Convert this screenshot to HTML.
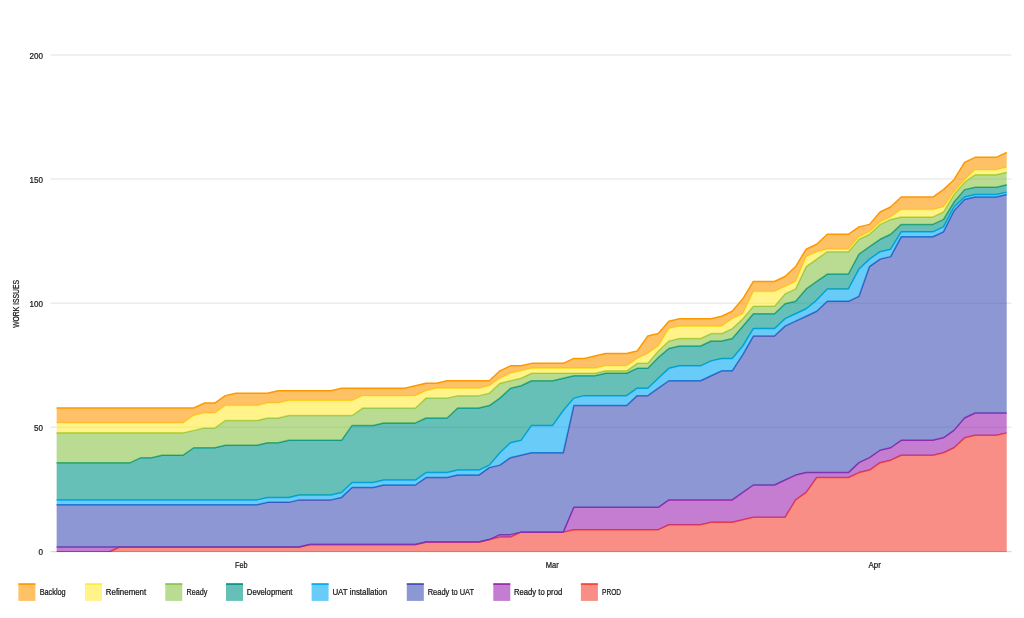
<!DOCTYPE html>
<html lang="en"><head><meta charset="utf-8"><title>Cumulative flow diagram</title>
<style>html,body{margin:0;padding:0;background:#fff}body{width:1024px;height:618px;overflow:hidden}svg{display:block;filter:blur(0.35px)}</style></head>
<body>
<svg width="1024" height="618" viewBox="0 0 1024 618">
<rect width="1024" height="618" fill="#fff"/>
<g stroke="#ebebeb" stroke-width="1.5">
<line x1="50.5" y1="55.0" x2="1011.5" y2="55.0"/>
<line x1="50.5" y1="179.1" x2="1011.5" y2="179.1"/>
<line x1="50.5" y1="303.2" x2="1011.5" y2="303.2"/>
<line x1="50.5" y1="427.3" x2="1011.5" y2="427.3"/>
</g>
<defs><clipPath id="plot"><rect x="56.4" y="40" width="950.5" height="512"/></clipPath></defs>
<g clip-path="url(#plot)">
<polygon points="56.40,552.00 66.96,552.00 77.52,552.00 88.08,552.00 98.64,552.00 109.20,552.00 119.76,547.04 130.32,547.04 140.88,547.04 151.44,547.04 162.00,547.04 172.56,547.04 183.12,547.04 193.68,547.04 204.24,547.04 214.80,547.04 225.36,547.04 235.92,547.04 246.48,547.04 257.04,547.04 267.60,547.04 278.16,547.04 288.72,547.04 299.28,547.04 309.84,544.55 320.40,544.55 330.96,544.55 341.52,544.55 352.08,544.55 362.64,544.55 373.20,544.55 383.76,544.55 394.32,544.55 404.88,544.55 415.44,544.55 426.00,542.07 436.56,542.07 447.12,542.07 457.68,542.07 468.24,542.07 478.80,542.07 489.36,539.59 499.92,537.11 510.48,537.11 521.04,532.14 531.60,532.14 542.16,532.14 552.72,532.14 563.28,532.14 573.84,529.66 584.40,529.66 594.96,529.66 605.52,529.66 616.08,529.66 626.64,529.66 637.20,529.66 647.76,529.66 658.32,529.66 668.88,524.70 679.44,524.70 690.00,524.70 700.56,524.70 711.12,522.22 721.68,522.22 732.24,522.22 742.80,519.73 753.36,517.25 763.92,517.25 774.48,517.25 785.04,517.25 795.60,499.88 806.16,492.43 816.72,477.54 827.28,477.54 837.84,477.54 848.40,477.54 858.96,472.58 869.52,470.09 880.08,462.65 890.64,460.17 901.20,455.20 911.76,455.20 922.32,455.20 932.88,455.20 943.44,452.72 954.00,447.76 964.56,437.83 975.12,435.35 985.68,435.35 996.24,435.35 1006.80,432.86 1006.80,552.00 996.24,552.00 985.68,552.00 975.12,552.00 964.56,552.00 954.00,552.00 943.44,552.00 932.88,552.00 922.32,552.00 911.76,552.00 901.20,552.00 890.64,552.00 880.08,552.00 869.52,552.00 858.96,552.00 848.40,552.00 837.84,552.00 827.28,552.00 816.72,552.00 806.16,552.00 795.60,552.00 785.04,552.00 774.48,552.00 763.92,552.00 753.36,552.00 742.80,552.00 732.24,552.00 721.68,552.00 711.12,552.00 700.56,552.00 690.00,552.00 679.44,552.00 668.88,552.00 658.32,552.00 647.76,552.00 637.20,552.00 626.64,552.00 616.08,552.00 605.52,552.00 594.96,552.00 584.40,552.00 573.84,552.00 563.28,552.00 552.72,552.00 542.16,552.00 531.60,552.00 521.04,552.00 510.48,552.00 499.92,552.00 489.36,552.00 478.80,552.00 468.24,552.00 457.68,552.00 447.12,552.00 436.56,552.00 426.00,552.00 415.44,552.00 404.88,552.00 394.32,552.00 383.76,552.00 373.20,552.00 362.64,552.00 352.08,552.00 341.52,552.00 330.96,552.00 320.40,552.00 309.84,552.00 299.28,552.00 288.72,552.00 278.16,552.00 267.60,552.00 257.04,552.00 246.48,552.00 235.92,552.00 225.36,552.00 214.80,552.00 204.24,552.00 193.68,552.00 183.12,552.00 172.56,552.00 162.00,552.00 151.44,552.00 140.88,552.00 130.32,552.00 119.76,552.00 109.20,552.00 98.64,552.00 88.08,552.00 77.52,552.00 66.96,552.00 56.40,552.00" fill="#F44336" fill-opacity="0.6"/>
<polyline points="56.40,552.00 66.96,552.00 77.52,552.00 88.08,552.00 98.64,552.00 109.20,552.00 119.76,547.04 130.32,547.04 140.88,547.04 151.44,547.04 162.00,547.04 172.56,547.04 183.12,547.04 193.68,547.04 204.24,547.04 214.80,547.04 225.36,547.04 235.92,547.04 246.48,547.04 257.04,547.04 267.60,547.04 278.16,547.04 288.72,547.04 299.28,547.04 309.84,544.55 320.40,544.55 330.96,544.55 341.52,544.55 352.08,544.55 362.64,544.55 373.20,544.55 383.76,544.55 394.32,544.55 404.88,544.55 415.44,544.55 426.00,542.07 436.56,542.07 447.12,542.07 457.68,542.07 468.24,542.07 478.80,542.07 489.36,539.59 499.92,537.11 510.48,537.11 521.04,532.14 531.60,532.14 542.16,532.14 552.72,532.14 563.28,532.14 573.84,529.66 584.40,529.66 594.96,529.66 605.52,529.66 616.08,529.66 626.64,529.66 637.20,529.66 647.76,529.66 658.32,529.66 668.88,524.70 679.44,524.70 690.00,524.70 700.56,524.70 711.12,522.22 721.68,522.22 732.24,522.22 742.80,519.73 753.36,517.25 763.92,517.25 774.48,517.25 785.04,517.25 795.60,499.88 806.16,492.43 816.72,477.54 827.28,477.54 837.84,477.54 848.40,477.54 858.96,472.58 869.52,470.09 880.08,462.65 890.64,460.17 901.20,455.20 911.76,455.20 922.32,455.20 932.88,455.20 943.44,452.72 954.00,447.76 964.56,437.83 975.12,435.35 985.68,435.35 996.24,435.35 1006.80,432.86" fill="none" stroke="#F44336" stroke-width="1.5" stroke-linejoin="round"/>
<polygon points="56.40,547.04 66.96,547.04 77.52,547.04 88.08,547.04 98.64,547.04 109.20,547.04 119.76,547.04 130.32,547.04 140.88,547.04 151.44,547.04 162.00,547.04 172.56,547.04 183.12,547.04 193.68,547.04 204.24,547.04 214.80,547.04 225.36,547.04 235.92,547.04 246.48,547.04 257.04,547.04 267.60,547.04 278.16,547.04 288.72,547.04 299.28,547.04 309.84,544.55 320.40,544.55 330.96,544.55 341.52,544.55 352.08,544.55 362.64,544.55 373.20,544.55 383.76,544.55 394.32,544.55 404.88,544.55 415.44,544.55 426.00,542.07 436.56,542.07 447.12,542.07 457.68,542.07 468.24,542.07 478.80,542.07 489.36,539.59 499.92,534.63 510.48,534.63 521.04,532.14 531.60,532.14 542.16,532.14 552.72,532.14 563.28,532.14 573.84,507.32 584.40,507.32 594.96,507.32 605.52,507.32 616.08,507.32 626.64,507.32 637.20,507.32 647.76,507.32 658.32,507.32 668.88,499.88 679.44,499.88 690.00,499.88 700.56,499.88 711.12,499.88 721.68,499.88 732.24,499.88 742.80,492.43 753.36,484.99 763.92,484.99 774.48,484.99 785.04,480.02 795.60,475.06 806.16,472.58 816.72,472.58 827.28,472.58 837.84,472.58 848.40,472.58 858.96,462.65 869.52,457.68 880.08,450.24 890.64,447.76 901.20,440.31 911.76,440.31 922.32,440.31 932.88,440.31 943.44,437.83 954.00,430.38 964.56,417.97 975.12,413.01 985.68,413.01 996.24,413.01 1006.80,413.01 1006.80,432.86 996.24,435.35 985.68,435.35 975.12,435.35 964.56,437.83 954.00,447.76 943.44,452.72 932.88,455.20 922.32,455.20 911.76,455.20 901.20,455.20 890.64,460.17 880.08,462.65 869.52,470.09 858.96,472.58 848.40,477.54 837.84,477.54 827.28,477.54 816.72,477.54 806.16,492.43 795.60,499.88 785.04,517.25 774.48,517.25 763.92,517.25 753.36,517.25 742.80,519.73 732.24,522.22 721.68,522.22 711.12,522.22 700.56,524.70 690.00,524.70 679.44,524.70 668.88,524.70 658.32,529.66 647.76,529.66 637.20,529.66 626.64,529.66 616.08,529.66 605.52,529.66 594.96,529.66 584.40,529.66 573.84,529.66 563.28,532.14 552.72,532.14 542.16,532.14 531.60,532.14 521.04,532.14 510.48,537.11 499.92,537.11 489.36,539.59 478.80,542.07 468.24,542.07 457.68,542.07 447.12,542.07 436.56,542.07 426.00,542.07 415.44,544.55 404.88,544.55 394.32,544.55 383.76,544.55 373.20,544.55 362.64,544.55 352.08,544.55 341.52,544.55 330.96,544.55 320.40,544.55 309.84,544.55 299.28,547.04 288.72,547.04 278.16,547.04 267.60,547.04 257.04,547.04 246.48,547.04 235.92,547.04 225.36,547.04 214.80,547.04 204.24,547.04 193.68,547.04 183.12,547.04 172.56,547.04 162.00,547.04 151.44,547.04 140.88,547.04 130.32,547.04 119.76,547.04 109.20,552.00 98.64,552.00 88.08,552.00 77.52,552.00 66.96,552.00 56.40,552.00" fill="#9C27B0" fill-opacity="0.6"/>
<polyline points="56.40,547.04 66.96,547.04 77.52,547.04 88.08,547.04 98.64,547.04 109.20,547.04 119.76,547.04 130.32,547.04 140.88,547.04 151.44,547.04 162.00,547.04 172.56,547.04 183.12,547.04 193.68,547.04 204.24,547.04 214.80,547.04 225.36,547.04 235.92,547.04 246.48,547.04 257.04,547.04 267.60,547.04 278.16,547.04 288.72,547.04 299.28,547.04 309.84,544.55 320.40,544.55 330.96,544.55 341.52,544.55 352.08,544.55 362.64,544.55 373.20,544.55 383.76,544.55 394.32,544.55 404.88,544.55 415.44,544.55 426.00,542.07 436.56,542.07 447.12,542.07 457.68,542.07 468.24,542.07 478.80,542.07 489.36,539.59 499.92,534.63 510.48,534.63 521.04,532.14 531.60,532.14 542.16,532.14 552.72,532.14 563.28,532.14 573.84,507.32 584.40,507.32 594.96,507.32 605.52,507.32 616.08,507.32 626.64,507.32 637.20,507.32 647.76,507.32 658.32,507.32 668.88,499.88 679.44,499.88 690.00,499.88 700.56,499.88 711.12,499.88 721.68,499.88 732.24,499.88 742.80,492.43 753.36,484.99 763.92,484.99 774.48,484.99 785.04,480.02 795.60,475.06 806.16,472.58 816.72,472.58 827.28,472.58 837.84,472.58 848.40,472.58 858.96,462.65 869.52,457.68 880.08,450.24 890.64,447.76 901.20,440.31 911.76,440.31 922.32,440.31 932.88,440.31 943.44,437.83 954.00,430.38 964.56,417.97 975.12,413.01 985.68,413.01 996.24,413.01 1006.80,413.01" fill="none" stroke="#9C27B0" stroke-width="1.5" stroke-linejoin="round"/>
<polygon points="56.40,504.84 66.96,504.84 77.52,504.84 88.08,504.84 98.64,504.84 109.20,504.84 119.76,504.84 130.32,504.84 140.88,504.84 151.44,504.84 162.00,504.84 172.56,504.84 183.12,504.84 193.68,504.84 204.24,504.84 214.80,504.84 225.36,504.84 235.92,504.84 246.48,504.84 257.04,504.84 267.60,502.36 278.16,502.36 288.72,502.36 299.28,499.88 309.84,499.88 320.40,499.88 330.96,499.88 341.52,497.40 352.08,487.47 362.64,487.47 373.20,487.47 383.76,484.99 394.32,484.99 404.88,484.99 415.44,484.99 426.00,477.54 436.56,477.54 447.12,477.54 457.68,475.06 468.24,475.06 478.80,475.06 489.36,467.61 499.92,465.13 510.48,457.68 521.04,455.20 531.60,452.72 542.16,452.72 552.72,452.72 563.28,452.72 573.84,405.56 584.40,405.56 594.96,405.56 605.52,405.56 616.08,405.56 626.64,405.56 637.20,395.63 647.76,395.63 658.32,388.19 668.88,380.74 679.44,380.74 690.00,380.74 700.56,380.74 711.12,375.78 721.68,370.81 732.24,370.81 742.80,354.68 753.36,336.07 763.92,336.07 774.48,336.07 785.04,326.14 795.60,321.17 806.16,316.21 816.72,311.25 827.28,301.32 837.84,301.32 848.40,301.32 858.96,296.35 869.52,266.57 880.08,259.12 890.64,256.64 901.20,236.79 911.76,236.79 922.32,236.79 932.88,236.79 943.44,231.82 954.00,210.72 964.56,199.56 975.12,197.07 985.68,197.07 996.24,197.07 1006.80,194.59 1006.80,413.01 996.24,413.01 985.68,413.01 975.12,413.01 964.56,417.97 954.00,430.38 943.44,437.83 932.88,440.31 922.32,440.31 911.76,440.31 901.20,440.31 890.64,447.76 880.08,450.24 869.52,457.68 858.96,462.65 848.40,472.58 837.84,472.58 827.28,472.58 816.72,472.58 806.16,472.58 795.60,475.06 785.04,480.02 774.48,484.99 763.92,484.99 753.36,484.99 742.80,492.43 732.24,499.88 721.68,499.88 711.12,499.88 700.56,499.88 690.00,499.88 679.44,499.88 668.88,499.88 658.32,507.32 647.76,507.32 637.20,507.32 626.64,507.32 616.08,507.32 605.52,507.32 594.96,507.32 584.40,507.32 573.84,507.32 563.28,532.14 552.72,532.14 542.16,532.14 531.60,532.14 521.04,532.14 510.48,534.63 499.92,534.63 489.36,539.59 478.80,542.07 468.24,542.07 457.68,542.07 447.12,542.07 436.56,542.07 426.00,542.07 415.44,544.55 404.88,544.55 394.32,544.55 383.76,544.55 373.20,544.55 362.64,544.55 352.08,544.55 341.52,544.55 330.96,544.55 320.40,544.55 309.84,544.55 299.28,547.04 288.72,547.04 278.16,547.04 267.60,547.04 257.04,547.04 246.48,547.04 235.92,547.04 225.36,547.04 214.80,547.04 204.24,547.04 193.68,547.04 183.12,547.04 172.56,547.04 162.00,547.04 151.44,547.04 140.88,547.04 130.32,547.04 119.76,547.04 109.20,547.04 98.64,547.04 88.08,547.04 77.52,547.04 66.96,547.04 56.40,547.04" fill="#3F51B5" fill-opacity="0.6"/>
<polyline points="56.40,504.84 66.96,504.84 77.52,504.84 88.08,504.84 98.64,504.84 109.20,504.84 119.76,504.84 130.32,504.84 140.88,504.84 151.44,504.84 162.00,504.84 172.56,504.84 183.12,504.84 193.68,504.84 204.24,504.84 214.80,504.84 225.36,504.84 235.92,504.84 246.48,504.84 257.04,504.84 267.60,502.36 278.16,502.36 288.72,502.36 299.28,499.88 309.84,499.88 320.40,499.88 330.96,499.88 341.52,497.40 352.08,487.47 362.64,487.47 373.20,487.47 383.76,484.99 394.32,484.99 404.88,484.99 415.44,484.99 426.00,477.54 436.56,477.54 447.12,477.54 457.68,475.06 468.24,475.06 478.80,475.06 489.36,467.61 499.92,465.13 510.48,457.68 521.04,455.20 531.60,452.72 542.16,452.72 552.72,452.72 563.28,452.72 573.84,405.56 584.40,405.56 594.96,405.56 605.52,405.56 616.08,405.56 626.64,405.56 637.20,395.63 647.76,395.63 658.32,388.19 668.88,380.74 679.44,380.74 690.00,380.74 700.56,380.74 711.12,375.78 721.68,370.81 732.24,370.81 742.80,354.68 753.36,336.07 763.92,336.07 774.48,336.07 785.04,326.14 795.60,321.17 806.16,316.21 816.72,311.25 827.28,301.32 837.84,301.32 848.40,301.32 858.96,296.35 869.52,266.57 880.08,259.12 890.64,256.64 901.20,236.79 911.76,236.79 922.32,236.79 932.88,236.79 943.44,231.82 954.00,210.72 964.56,199.56 975.12,197.07 985.68,197.07 996.24,197.07 1006.80,194.59" fill="none" stroke="#3F51B5" stroke-width="1.5" stroke-linejoin="round"/>
<polygon points="56.40,499.88 66.96,499.88 77.52,499.88 88.08,499.88 98.64,499.88 109.20,499.88 119.76,499.88 130.32,499.88 140.88,499.88 151.44,499.88 162.00,499.88 172.56,499.88 183.12,499.88 193.68,499.88 204.24,499.88 214.80,499.88 225.36,499.88 235.92,499.88 246.48,499.88 257.04,499.88 267.60,497.40 278.16,497.40 288.72,497.40 299.28,494.91 309.84,494.91 320.40,494.91 330.96,494.91 341.52,492.43 352.08,482.50 362.64,482.50 373.20,482.50 383.76,480.02 394.32,480.02 404.88,480.02 415.44,480.02 426.00,472.58 436.56,472.58 447.12,472.58 457.68,470.09 468.24,470.09 478.80,470.09 489.36,465.13 499.92,452.72 510.48,442.79 521.04,440.31 531.60,425.42 542.16,425.42 552.72,425.42 563.28,410.53 573.84,398.12 584.40,395.63 594.96,395.63 605.52,395.63 616.08,395.63 626.64,395.63 637.20,388.19 647.76,388.19 658.32,378.26 668.88,368.33 679.44,365.85 690.00,365.85 700.56,365.85 711.12,360.89 721.68,358.40 732.24,358.40 742.80,345.99 753.36,328.62 763.92,328.62 774.48,328.62 785.04,318.69 795.60,313.73 806.16,308.76 816.72,300.08 827.28,288.91 837.84,288.91 848.40,288.91 858.96,269.05 869.52,259.12 880.08,251.68 890.64,249.20 901.20,231.82 911.76,231.82 922.32,231.82 932.88,231.82 943.44,226.86 954.00,207.00 964.56,197.07 975.12,194.59 985.68,194.59 996.24,194.59 1006.80,192.11 1006.80,194.59 996.24,197.07 985.68,197.07 975.12,197.07 964.56,199.56 954.00,210.72 943.44,231.82 932.88,236.79 922.32,236.79 911.76,236.79 901.20,236.79 890.64,256.64 880.08,259.12 869.52,266.57 858.96,296.35 848.40,301.32 837.84,301.32 827.28,301.32 816.72,311.25 806.16,316.21 795.60,321.17 785.04,326.14 774.48,336.07 763.92,336.07 753.36,336.07 742.80,354.68 732.24,370.81 721.68,370.81 711.12,375.78 700.56,380.74 690.00,380.74 679.44,380.74 668.88,380.74 658.32,388.19 647.76,395.63 637.20,395.63 626.64,405.56 616.08,405.56 605.52,405.56 594.96,405.56 584.40,405.56 573.84,405.56 563.28,452.72 552.72,452.72 542.16,452.72 531.60,452.72 521.04,455.20 510.48,457.68 499.92,465.13 489.36,467.61 478.80,475.06 468.24,475.06 457.68,475.06 447.12,477.54 436.56,477.54 426.00,477.54 415.44,484.99 404.88,484.99 394.32,484.99 383.76,484.99 373.20,487.47 362.64,487.47 352.08,487.47 341.52,497.40 330.96,499.88 320.40,499.88 309.84,499.88 299.28,499.88 288.72,502.36 278.16,502.36 267.60,502.36 257.04,504.84 246.48,504.84 235.92,504.84 225.36,504.84 214.80,504.84 204.24,504.84 193.68,504.84 183.12,504.84 172.56,504.84 162.00,504.84 151.44,504.84 140.88,504.84 130.32,504.84 119.76,504.84 109.20,504.84 98.64,504.84 88.08,504.84 77.52,504.84 66.96,504.84 56.40,504.84" fill="#03A9F4" fill-opacity="0.6"/>
<polyline points="56.40,499.88 66.96,499.88 77.52,499.88 88.08,499.88 98.64,499.88 109.20,499.88 119.76,499.88 130.32,499.88 140.88,499.88 151.44,499.88 162.00,499.88 172.56,499.88 183.12,499.88 193.68,499.88 204.24,499.88 214.80,499.88 225.36,499.88 235.92,499.88 246.48,499.88 257.04,499.88 267.60,497.40 278.16,497.40 288.72,497.40 299.28,494.91 309.84,494.91 320.40,494.91 330.96,494.91 341.52,492.43 352.08,482.50 362.64,482.50 373.20,482.50 383.76,480.02 394.32,480.02 404.88,480.02 415.44,480.02 426.00,472.58 436.56,472.58 447.12,472.58 457.68,470.09 468.24,470.09 478.80,470.09 489.36,465.13 499.92,452.72 510.48,442.79 521.04,440.31 531.60,425.42 542.16,425.42 552.72,425.42 563.28,410.53 573.84,398.12 584.40,395.63 594.96,395.63 605.52,395.63 616.08,395.63 626.64,395.63 637.20,388.19 647.76,388.19 658.32,378.26 668.88,368.33 679.44,365.85 690.00,365.85 700.56,365.85 711.12,360.89 721.68,358.40 732.24,358.40 742.80,345.99 753.36,328.62 763.92,328.62 774.48,328.62 785.04,318.69 795.60,313.73 806.16,308.76 816.72,300.08 827.28,288.91 837.84,288.91 848.40,288.91 858.96,269.05 869.52,259.12 880.08,251.68 890.64,249.20 901.20,231.82 911.76,231.82 922.32,231.82 932.88,231.82 943.44,226.86 954.00,207.00 964.56,197.07 975.12,194.59 985.68,194.59 996.24,194.59 1006.80,192.11" fill="none" stroke="#03A9F4" stroke-width="1.5" stroke-linejoin="round"/>
<polygon points="56.40,462.65 66.96,462.65 77.52,462.65 88.08,462.65 98.64,462.65 109.20,462.65 119.76,462.65 130.32,462.65 140.88,457.68 151.44,457.68 162.00,455.20 172.56,455.20 183.12,455.20 193.68,447.76 204.24,447.76 214.80,447.76 225.36,445.27 235.92,445.27 246.48,445.27 257.04,445.27 267.60,442.79 278.16,442.79 288.72,440.31 299.28,440.31 309.84,440.31 320.40,440.31 330.96,440.31 341.52,440.31 352.08,425.42 362.64,425.42 373.20,425.42 383.76,422.94 394.32,422.94 404.88,422.94 415.44,422.94 426.00,417.97 436.56,417.97 447.12,417.97 457.68,408.04 468.24,408.04 478.80,408.04 489.36,405.56 499.92,398.12 510.48,388.19 521.04,385.71 531.60,380.74 542.16,380.74 552.72,380.74 563.28,378.26 573.84,375.78 584.40,375.78 594.96,375.78 605.52,373.30 616.08,373.30 626.64,373.30 637.20,368.33 647.76,368.33 658.32,357.41 668.88,348.48 679.44,345.99 690.00,345.99 700.56,345.99 711.12,341.03 721.68,341.03 732.24,338.55 742.80,326.14 753.36,313.73 763.92,313.73 774.48,313.73 785.04,303.80 795.60,301.32 806.16,288.91 816.72,281.46 827.28,274.02 837.84,274.02 848.40,274.02 858.96,254.16 869.52,246.71 880.08,239.27 890.64,234.30 901.20,224.38 911.76,224.38 922.32,224.38 932.88,224.38 943.44,219.41 954.00,202.04 964.56,189.63 975.12,187.15 985.68,187.15 996.24,187.15 1006.80,184.66 1006.80,192.11 996.24,194.59 985.68,194.59 975.12,194.59 964.56,197.07 954.00,207.00 943.44,226.86 932.88,231.82 922.32,231.82 911.76,231.82 901.20,231.82 890.64,249.20 880.08,251.68 869.52,259.12 858.96,269.05 848.40,288.91 837.84,288.91 827.28,288.91 816.72,300.08 806.16,308.76 795.60,313.73 785.04,318.69 774.48,328.62 763.92,328.62 753.36,328.62 742.80,345.99 732.24,358.40 721.68,358.40 711.12,360.89 700.56,365.85 690.00,365.85 679.44,365.85 668.88,368.33 658.32,378.26 647.76,388.19 637.20,388.19 626.64,395.63 616.08,395.63 605.52,395.63 594.96,395.63 584.40,395.63 573.84,398.12 563.28,410.53 552.72,425.42 542.16,425.42 531.60,425.42 521.04,440.31 510.48,442.79 499.92,452.72 489.36,465.13 478.80,470.09 468.24,470.09 457.68,470.09 447.12,472.58 436.56,472.58 426.00,472.58 415.44,480.02 404.88,480.02 394.32,480.02 383.76,480.02 373.20,482.50 362.64,482.50 352.08,482.50 341.52,492.43 330.96,494.91 320.40,494.91 309.84,494.91 299.28,494.91 288.72,497.40 278.16,497.40 267.60,497.40 257.04,499.88 246.48,499.88 235.92,499.88 225.36,499.88 214.80,499.88 204.24,499.88 193.68,499.88 183.12,499.88 172.56,499.88 162.00,499.88 151.44,499.88 140.88,499.88 130.32,499.88 119.76,499.88 109.20,499.88 98.64,499.88 88.08,499.88 77.52,499.88 66.96,499.88 56.40,499.88" fill="#009688" fill-opacity="0.6"/>
<polyline points="56.40,462.65 66.96,462.65 77.52,462.65 88.08,462.65 98.64,462.65 109.20,462.65 119.76,462.65 130.32,462.65 140.88,457.68 151.44,457.68 162.00,455.20 172.56,455.20 183.12,455.20 193.68,447.76 204.24,447.76 214.80,447.76 225.36,445.27 235.92,445.27 246.48,445.27 257.04,445.27 267.60,442.79 278.16,442.79 288.72,440.31 299.28,440.31 309.84,440.31 320.40,440.31 330.96,440.31 341.52,440.31 352.08,425.42 362.64,425.42 373.20,425.42 383.76,422.94 394.32,422.94 404.88,422.94 415.44,422.94 426.00,417.97 436.56,417.97 447.12,417.97 457.68,408.04 468.24,408.04 478.80,408.04 489.36,405.56 499.92,398.12 510.48,388.19 521.04,385.71 531.60,380.74 542.16,380.74 552.72,380.74 563.28,378.26 573.84,375.78 584.40,375.78 594.96,375.78 605.52,373.30 616.08,373.30 626.64,373.30 637.20,368.33 647.76,368.33 658.32,357.41 668.88,348.48 679.44,345.99 690.00,345.99 700.56,345.99 711.12,341.03 721.68,341.03 732.24,338.55 742.80,326.14 753.36,313.73 763.92,313.73 774.48,313.73 785.04,303.80 795.60,301.32 806.16,288.91 816.72,281.46 827.28,274.02 837.84,274.02 848.40,274.02 858.96,254.16 869.52,246.71 880.08,239.27 890.64,234.30 901.20,224.38 911.76,224.38 922.32,224.38 932.88,224.38 943.44,219.41 954.00,202.04 964.56,189.63 975.12,187.15 985.68,187.15 996.24,187.15 1006.80,184.66" fill="none" stroke="#009688" stroke-width="1.5" stroke-linejoin="round"/>
<polygon points="56.40,432.86 66.96,432.86 77.52,432.86 88.08,432.86 98.64,432.86 109.20,432.86 119.76,432.86 130.32,432.86 140.88,432.86 151.44,432.86 162.00,432.86 172.56,432.86 183.12,432.86 193.68,430.38 204.24,427.90 214.80,427.90 225.36,420.45 235.92,420.45 246.48,420.45 257.04,420.45 267.60,417.97 278.16,417.97 288.72,415.49 299.28,415.49 309.84,415.49 320.40,415.49 330.96,415.49 341.52,415.49 352.08,415.49 362.64,408.04 373.20,408.04 383.76,408.04 394.32,408.04 404.88,408.04 415.44,408.04 426.00,398.12 436.56,398.12 447.12,398.12 457.68,395.63 468.24,395.63 478.80,395.63 489.36,393.15 499.92,383.22 510.48,380.74 521.04,378.26 531.60,373.30 542.16,373.30 552.72,373.30 563.28,373.30 573.84,373.30 584.40,373.30 594.96,373.30 605.52,370.81 616.08,370.81 626.64,370.81 637.20,363.37 647.76,363.37 658.32,350.96 668.88,341.03 679.44,338.55 690.00,338.55 700.56,338.55 711.12,333.58 721.68,333.58 732.24,328.62 742.80,318.69 753.36,306.28 763.92,306.28 774.48,306.28 785.04,293.87 795.60,288.91 806.16,266.57 816.72,259.12 827.28,251.68 837.84,251.68 848.40,251.68 858.96,239.27 869.52,234.30 880.08,224.38 890.64,219.41 901.20,216.93 911.76,216.93 922.32,216.93 932.88,216.93 943.44,211.97 954.00,194.59 964.56,182.18 975.12,174.74 985.68,174.74 996.24,174.74 1006.80,172.25 1006.80,184.66 996.24,187.15 985.68,187.15 975.12,187.15 964.56,189.63 954.00,202.04 943.44,219.41 932.88,224.38 922.32,224.38 911.76,224.38 901.20,224.38 890.64,234.30 880.08,239.27 869.52,246.71 858.96,254.16 848.40,274.02 837.84,274.02 827.28,274.02 816.72,281.46 806.16,288.91 795.60,301.32 785.04,303.80 774.48,313.73 763.92,313.73 753.36,313.73 742.80,326.14 732.24,338.55 721.68,341.03 711.12,341.03 700.56,345.99 690.00,345.99 679.44,345.99 668.88,348.48 658.32,357.41 647.76,368.33 637.20,368.33 626.64,373.30 616.08,373.30 605.52,373.30 594.96,375.78 584.40,375.78 573.84,375.78 563.28,378.26 552.72,380.74 542.16,380.74 531.60,380.74 521.04,385.71 510.48,388.19 499.92,398.12 489.36,405.56 478.80,408.04 468.24,408.04 457.68,408.04 447.12,417.97 436.56,417.97 426.00,417.97 415.44,422.94 404.88,422.94 394.32,422.94 383.76,422.94 373.20,425.42 362.64,425.42 352.08,425.42 341.52,440.31 330.96,440.31 320.40,440.31 309.84,440.31 299.28,440.31 288.72,440.31 278.16,442.79 267.60,442.79 257.04,445.27 246.48,445.27 235.92,445.27 225.36,445.27 214.80,447.76 204.24,447.76 193.68,447.76 183.12,455.20 172.56,455.20 162.00,455.20 151.44,457.68 140.88,457.68 130.32,462.65 119.76,462.65 109.20,462.65 98.64,462.65 88.08,462.65 77.52,462.65 66.96,462.65 56.40,462.65" fill="#8BC34A" fill-opacity="0.6"/>
<polyline points="56.40,432.86 66.96,432.86 77.52,432.86 88.08,432.86 98.64,432.86 109.20,432.86 119.76,432.86 130.32,432.86 140.88,432.86 151.44,432.86 162.00,432.86 172.56,432.86 183.12,432.86 193.68,430.38 204.24,427.90 214.80,427.90 225.36,420.45 235.92,420.45 246.48,420.45 257.04,420.45 267.60,417.97 278.16,417.97 288.72,415.49 299.28,415.49 309.84,415.49 320.40,415.49 330.96,415.49 341.52,415.49 352.08,415.49 362.64,408.04 373.20,408.04 383.76,408.04 394.32,408.04 404.88,408.04 415.44,408.04 426.00,398.12 436.56,398.12 447.12,398.12 457.68,395.63 468.24,395.63 478.80,395.63 489.36,393.15 499.92,383.22 510.48,380.74 521.04,378.26 531.60,373.30 542.16,373.30 552.72,373.30 563.28,373.30 573.84,373.30 584.40,373.30 594.96,373.30 605.52,370.81 616.08,370.81 626.64,370.81 637.20,363.37 647.76,363.37 658.32,350.96 668.88,341.03 679.44,338.55 690.00,338.55 700.56,338.55 711.12,333.58 721.68,333.58 732.24,328.62 742.80,318.69 753.36,306.28 763.92,306.28 774.48,306.28 785.04,293.87 795.60,288.91 806.16,266.57 816.72,259.12 827.28,251.68 837.84,251.68 848.40,251.68 858.96,239.27 869.52,234.30 880.08,224.38 890.64,219.41 901.20,216.93 911.76,216.93 922.32,216.93 932.88,216.93 943.44,211.97 954.00,194.59 964.56,182.18 975.12,174.74 985.68,174.74 996.24,174.74 1006.80,172.25" fill="none" stroke="#8BC34A" stroke-width="1.5" stroke-linejoin="round"/>
<polygon points="56.40,422.94 66.96,422.94 77.52,422.94 88.08,422.94 98.64,422.94 109.20,422.94 119.76,422.94 130.32,422.94 140.88,422.94 151.44,422.94 162.00,422.94 172.56,422.94 183.12,422.94 193.68,415.49 204.24,413.01 214.80,413.01 225.36,405.56 235.92,405.56 246.48,405.56 257.04,405.56 267.60,403.08 278.16,403.08 288.72,400.60 299.28,400.60 309.84,400.60 320.40,400.60 330.96,400.60 341.52,400.60 352.08,400.60 362.64,395.63 373.20,395.63 383.76,395.63 394.32,395.63 404.88,395.63 415.44,395.63 426.00,390.67 436.56,388.19 447.12,388.19 457.68,388.19 468.24,388.19 478.80,388.19 489.36,385.71 499.92,378.26 510.48,373.30 521.04,370.81 531.60,368.33 542.16,368.33 552.72,368.33 563.28,368.33 573.84,368.33 584.40,368.33 594.96,368.33 605.52,365.85 616.08,365.85 626.64,365.85 637.20,358.40 647.76,353.44 658.32,345.99 668.88,328.62 679.44,326.14 690.00,326.14 700.56,326.14 711.12,326.14 721.68,326.14 732.24,318.69 742.80,313.73 753.36,291.39 763.92,291.39 774.48,291.39 785.04,286.43 795.60,281.46 806.16,256.64 816.72,251.68 827.28,249.20 837.84,249.20 848.40,249.20 858.96,236.79 869.52,231.82 880.08,221.89 890.64,216.93 901.20,209.48 911.76,209.48 922.32,209.48 932.88,209.48 943.44,207.00 954.00,192.11 964.56,179.70 975.12,169.77 985.68,169.77 996.24,169.77 1006.80,167.29 1006.80,172.25 996.24,174.74 985.68,174.74 975.12,174.74 964.56,182.18 954.00,194.59 943.44,211.97 932.88,216.93 922.32,216.93 911.76,216.93 901.20,216.93 890.64,219.41 880.08,224.38 869.52,234.30 858.96,239.27 848.40,251.68 837.84,251.68 827.28,251.68 816.72,259.12 806.16,266.57 795.60,288.91 785.04,293.87 774.48,306.28 763.92,306.28 753.36,306.28 742.80,318.69 732.24,328.62 721.68,333.58 711.12,333.58 700.56,338.55 690.00,338.55 679.44,338.55 668.88,341.03 658.32,350.96 647.76,363.37 637.20,363.37 626.64,370.81 616.08,370.81 605.52,370.81 594.96,373.30 584.40,373.30 573.84,373.30 563.28,373.30 552.72,373.30 542.16,373.30 531.60,373.30 521.04,378.26 510.48,380.74 499.92,383.22 489.36,393.15 478.80,395.63 468.24,395.63 457.68,395.63 447.12,398.12 436.56,398.12 426.00,398.12 415.44,408.04 404.88,408.04 394.32,408.04 383.76,408.04 373.20,408.04 362.64,408.04 352.08,415.49 341.52,415.49 330.96,415.49 320.40,415.49 309.84,415.49 299.28,415.49 288.72,415.49 278.16,417.97 267.60,417.97 257.04,420.45 246.48,420.45 235.92,420.45 225.36,420.45 214.80,427.90 204.24,427.90 193.68,430.38 183.12,432.86 172.56,432.86 162.00,432.86 151.44,432.86 140.88,432.86 130.32,432.86 119.76,432.86 109.20,432.86 98.64,432.86 88.08,432.86 77.52,432.86 66.96,432.86 56.40,432.86" fill="#FFEB3B" fill-opacity="0.6"/>
<polyline points="56.40,422.94 66.96,422.94 77.52,422.94 88.08,422.94 98.64,422.94 109.20,422.94 119.76,422.94 130.32,422.94 140.88,422.94 151.44,422.94 162.00,422.94 172.56,422.94 183.12,422.94 193.68,415.49 204.24,413.01 214.80,413.01 225.36,405.56 235.92,405.56 246.48,405.56 257.04,405.56 267.60,403.08 278.16,403.08 288.72,400.60 299.28,400.60 309.84,400.60 320.40,400.60 330.96,400.60 341.52,400.60 352.08,400.60 362.64,395.63 373.20,395.63 383.76,395.63 394.32,395.63 404.88,395.63 415.44,395.63 426.00,390.67 436.56,388.19 447.12,388.19 457.68,388.19 468.24,388.19 478.80,388.19 489.36,385.71 499.92,378.26 510.48,373.30 521.04,370.81 531.60,368.33 542.16,368.33 552.72,368.33 563.28,368.33 573.84,368.33 584.40,368.33 594.96,368.33 605.52,365.85 616.08,365.85 626.64,365.85 637.20,358.40 647.76,353.44 658.32,345.99 668.88,328.62 679.44,326.14 690.00,326.14 700.56,326.14 711.12,326.14 721.68,326.14 732.24,318.69 742.80,313.73 753.36,291.39 763.92,291.39 774.48,291.39 785.04,286.43 795.60,281.46 806.16,256.64 816.72,251.68 827.28,249.20 837.84,249.20 848.40,249.20 858.96,236.79 869.52,231.82 880.08,221.89 890.64,216.93 901.20,209.48 911.76,209.48 922.32,209.48 932.88,209.48 943.44,207.00 954.00,192.11 964.56,179.70 975.12,169.77 985.68,169.77 996.24,169.77 1006.80,167.29" fill="none" stroke="#FFEB3B" stroke-width="1.5" stroke-linejoin="round"/>
<polygon points="56.40,408.04 66.96,408.04 77.52,408.04 88.08,408.04 98.64,408.04 109.20,408.04 119.76,408.04 130.32,408.04 140.88,408.04 151.44,408.04 162.00,408.04 172.56,408.04 183.12,408.04 193.68,408.04 204.24,403.08 214.80,403.08 225.36,395.63 235.92,393.15 246.48,393.15 257.04,393.15 267.60,393.15 278.16,390.67 288.72,390.67 299.28,390.67 309.84,390.67 320.40,390.67 330.96,390.67 341.52,388.19 352.08,388.19 362.64,388.19 373.20,388.19 383.76,388.19 394.32,388.19 404.88,388.19 415.44,385.71 426.00,383.22 436.56,383.22 447.12,380.74 457.68,380.74 468.24,380.74 478.80,380.74 489.36,380.74 499.92,370.81 510.48,365.85 521.04,365.85 531.60,363.37 542.16,363.37 552.72,363.37 563.28,363.37 573.84,358.40 584.40,358.40 594.96,355.92 605.52,353.44 616.08,353.44 626.64,353.44 637.20,350.96 647.76,336.07 658.32,333.58 668.88,321.17 679.44,318.69 690.00,318.69 700.56,318.69 711.12,318.69 721.68,316.21 732.24,311.25 742.80,298.84 753.36,281.46 763.92,281.46 774.48,281.46 785.04,276.50 795.60,266.57 806.16,249.20 816.72,244.23 827.28,234.30 837.84,234.30 848.40,234.30 858.96,226.86 869.52,224.38 880.08,211.97 890.64,207.00 901.20,197.07 911.76,197.07 922.32,197.07 932.88,197.07 943.44,189.63 954.00,179.70 964.56,162.33 975.12,157.36 985.68,157.36 996.24,157.36 1006.80,152.40 1006.80,167.29 996.24,169.77 985.68,169.77 975.12,169.77 964.56,179.70 954.00,192.11 943.44,207.00 932.88,209.48 922.32,209.48 911.76,209.48 901.20,209.48 890.64,216.93 880.08,221.89 869.52,231.82 858.96,236.79 848.40,249.20 837.84,249.20 827.28,249.20 816.72,251.68 806.16,256.64 795.60,281.46 785.04,286.43 774.48,291.39 763.92,291.39 753.36,291.39 742.80,313.73 732.24,318.69 721.68,326.14 711.12,326.14 700.56,326.14 690.00,326.14 679.44,326.14 668.88,328.62 658.32,345.99 647.76,353.44 637.20,358.40 626.64,365.85 616.08,365.85 605.52,365.85 594.96,368.33 584.40,368.33 573.84,368.33 563.28,368.33 552.72,368.33 542.16,368.33 531.60,368.33 521.04,370.81 510.48,373.30 499.92,378.26 489.36,385.71 478.80,388.19 468.24,388.19 457.68,388.19 447.12,388.19 436.56,388.19 426.00,390.67 415.44,395.63 404.88,395.63 394.32,395.63 383.76,395.63 373.20,395.63 362.64,395.63 352.08,400.60 341.52,400.60 330.96,400.60 320.40,400.60 309.84,400.60 299.28,400.60 288.72,400.60 278.16,403.08 267.60,403.08 257.04,405.56 246.48,405.56 235.92,405.56 225.36,405.56 214.80,413.01 204.24,413.01 193.68,415.49 183.12,422.94 172.56,422.94 162.00,422.94 151.44,422.94 140.88,422.94 130.32,422.94 119.76,422.94 109.20,422.94 98.64,422.94 88.08,422.94 77.52,422.94 66.96,422.94 56.40,422.94" fill="#FF9800" fill-opacity="0.6"/>
<polyline points="56.40,408.04 66.96,408.04 77.52,408.04 88.08,408.04 98.64,408.04 109.20,408.04 119.76,408.04 130.32,408.04 140.88,408.04 151.44,408.04 162.00,408.04 172.56,408.04 183.12,408.04 193.68,408.04 204.24,403.08 214.80,403.08 225.36,395.63 235.92,393.15 246.48,393.15 257.04,393.15 267.60,393.15 278.16,390.67 288.72,390.67 299.28,390.67 309.84,390.67 320.40,390.67 330.96,390.67 341.52,388.19 352.08,388.19 362.64,388.19 373.20,388.19 383.76,388.19 394.32,388.19 404.88,388.19 415.44,385.71 426.00,383.22 436.56,383.22 447.12,380.74 457.68,380.74 468.24,380.74 478.80,380.74 489.36,380.74 499.92,370.81 510.48,365.85 521.04,365.85 531.60,363.37 542.16,363.37 552.72,363.37 563.28,363.37 573.84,358.40 584.40,358.40 594.96,355.92 605.52,353.44 616.08,353.44 626.64,353.44 637.20,350.96 647.76,336.07 658.32,333.58 668.88,321.17 679.44,318.69 690.00,318.69 700.56,318.69 711.12,318.69 721.68,316.21 732.24,311.25 742.80,298.84 753.36,281.46 763.92,281.46 774.48,281.46 785.04,276.50 795.60,266.57 806.16,249.20 816.72,244.23 827.28,234.30 837.84,234.30 848.40,234.30 858.96,226.86 869.52,224.38 880.08,211.97 890.64,207.00 901.20,197.07 911.76,197.07 922.32,197.07 932.88,197.07 943.44,189.63 954.00,179.70 964.56,162.33 975.12,157.36 985.68,157.36 996.24,157.36 1006.80,152.40" fill="none" stroke="#FF9800" stroke-width="1.5" stroke-linejoin="round"/>
</g>
<line x1="50.5" y1="551.6" x2="1011.5" y2="551.6" stroke="#000" stroke-opacity="0.15" stroke-width="1.4"/>
<g font-family="'Liberation Sans', sans-serif" fill="#151515" stroke="#151515" stroke-width="0.22" font-size="8.6">
<text x="42.9" y="58.5" text-anchor="end" textLength="13.4" lengthAdjust="spacingAndGlyphs">200</text>
<text x="42.9" y="182.6" text-anchor="end" textLength="13.4" lengthAdjust="spacingAndGlyphs">150</text>
<text x="42.9" y="306.7" text-anchor="end" textLength="13.4" lengthAdjust="spacingAndGlyphs">100</text>
<text x="42.9" y="430.8" text-anchor="end" textLength="8.9" lengthAdjust="spacingAndGlyphs">50</text>
<text x="42.9" y="555.0" text-anchor="end" textLength="4.5" lengthAdjust="spacingAndGlyphs">0</text>
<text x="235.0" y="567.9" textLength="12.6" lengthAdjust="spacingAndGlyphs">Feb</text>
<text x="545.8" y="567.9" textLength="13.0" lengthAdjust="spacingAndGlyphs">Mar</text>
<text x="868.6" y="567.9" textLength="12.3" lengthAdjust="spacingAndGlyphs">Apr</text>
<text transform="translate(19.2,327.8) rotate(-90)" font-size="8.5" textLength="47.8" lengthAdjust="spacingAndGlyphs">WORK ISSUES</text>
</g>
<g font-family="'Liberation Sans', sans-serif" fill="#151515" stroke="#151515" stroke-width="0.22" font-size="8.2">
<rect x="18.4" y="583.4" width="17" height="17.5" fill="#FF9800" fill-opacity="0.6" stroke="none"/>
<line x1="18.4" y1="584.1" x2="35.4" y2="584.1" stroke="#FF9800" stroke-width="1.6"/>
<text x="39.7" y="595.0" textLength="26.0" lengthAdjust="spacingAndGlyphs">Backlog</text>
<rect x="85.0" y="583.4" width="17" height="17.5" fill="#FFEB3B" fill-opacity="0.6" stroke="none"/>
<line x1="85.0" y1="584.1" x2="102.0" y2="584.1" stroke="#FFEB3B" stroke-width="1.6"/>
<text x="105.8" y="595.0" textLength="40.4" lengthAdjust="spacingAndGlyphs">Refinement</text>
<rect x="165.3" y="583.4" width="17" height="17.5" fill="#8BC34A" fill-opacity="0.6" stroke="none"/>
<line x1="165.3" y1="584.1" x2="182.3" y2="584.1" stroke="#8BC34A" stroke-width="1.6"/>
<text x="186.5" y="595.0" textLength="20.8" lengthAdjust="spacingAndGlyphs">Ready</text>
<rect x="226.0" y="583.4" width="17" height="17.5" fill="#009688" fill-opacity="0.6" stroke="none"/>
<line x1="226.0" y1="584.1" x2="243.0" y2="584.1" stroke="#009688" stroke-width="1.6"/>
<text x="246.8" y="595.0" textLength="45.6" lengthAdjust="spacingAndGlyphs">Development</text>
<rect x="311.6" y="583.4" width="17" height="17.5" fill="#03A9F4" fill-opacity="0.6" stroke="none"/>
<line x1="311.6" y1="584.1" x2="328.6" y2="584.1" stroke="#03A9F4" stroke-width="1.6"/>
<text x="332.4" y="595.0" textLength="54.8" lengthAdjust="spacingAndGlyphs">UAT installation</text>
<rect x="406.8" y="583.4" width="17" height="17.5" fill="#3F51B5" fill-opacity="0.6" stroke="none"/>
<line x1="406.8" y1="584.1" x2="423.8" y2="584.1" stroke="#3F51B5" stroke-width="1.6"/>
<text x="427.7" y="595.0" textLength="46.4" lengthAdjust="spacingAndGlyphs">Ready to UAT</text>
<rect x="493.3" y="583.4" width="17" height="17.5" fill="#9C27B0" fill-opacity="0.6" stroke="none"/>
<line x1="493.3" y1="584.1" x2="510.3" y2="584.1" stroke="#9C27B0" stroke-width="1.6"/>
<text x="513.9" y="595.0" textLength="48.3" lengthAdjust="spacingAndGlyphs">Ready to prod</text>
<rect x="580.9" y="583.4" width="17" height="17.5" fill="#F44336" fill-opacity="0.6" stroke="none"/>
<line x1="580.9" y1="584.1" x2="597.9" y2="584.1" stroke="#F44336" stroke-width="1.6"/>
<text x="602.0" y="595.0" textLength="19.0" lengthAdjust="spacingAndGlyphs">PROD</text>
</g>
</svg>
</body></html>
